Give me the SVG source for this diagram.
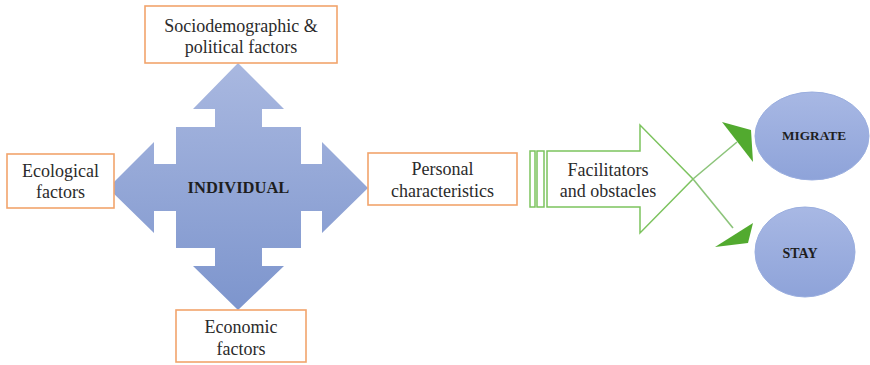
<svg xmlns="http://www.w3.org/2000/svg" width="870" height="365" viewBox="0 0 870 365">
  <style>
    .box { fill: #ffffff; stroke: #f2a46c; stroke-width: 1.6; }
    .lbl { font-family: "Liberation Serif", "Times New Roman", "DejaVu Serif", serif; font-size: 18px; fill: #2b2b2b; text-anchor: middle; }
    .bold { font-family: "Liberation Serif", "Times New Roman", "DejaVu Serif", serif; font-weight: bold; fill: #1e1e1e; text-anchor: middle; }
    .gline { fill: none; stroke: #7cc35e; stroke-width: 1.5; }
    .conn { stroke: #8cc47a; stroke-width: 1.6; fill: none; }
    .head { fill: #52aa2f; }
    .oval { fill: url(#blueOval); stroke: #9aaedf; stroke-width: 1; }
  </style>
  <defs>
    <linearGradient id="blueCross" x1="0" y1="0" x2="0" y2="1">
      <stop offset="0" stop-color="#a9b8e0"/>
      <stop offset="1" stop-color="#7d95cd"/>
    </linearGradient>
    <linearGradient id="blueOval" x1="0" y1="0" x2="0" y2="1">
      <stop offset="0" stop-color="#a8b8e4"/>
      <stop offset="1" stop-color="#8ea3d9"/>
    </linearGradient>
  </defs>

  <!-- central four-way arrow -->
  <g id="individual">
    <path fill="url(#blueCross)" d="M238,63 L284,109 L262,109 L262,127 L301,127 L301,164 L322,164 L322,142 L368,188 L322,233 L322,211 L301,211 L301,248 L262,248 L262,266 L284,266 L238,310 L193,266 L215,266 L215,248 L176,248 L176,211 L154,211 L154,233 L108,188 L154,142 L154,164 L176,164 L176,127 L215,127 L215,109 L193,109 Z"/>
    <text class="bold" x="238.5" y="193" font-size="16.5">INDIVIDUAL</text>
  </g>

  <g id="sociodemographic">
    <rect class="box" x="145" y="6" width="192" height="57"/>
    <text class="lbl" x="241" y="32">Sociodemographic &amp;</text>
    <text class="lbl" x="241" y="53">political factors</text>
  </g>

  <g id="ecological">
    <rect class="box" x="7" y="154" width="107" height="54"/>
    <text class="lbl" x="60.5" y="177">Ecological</text>
    <text class="lbl" x="60.5" y="198">factors</text>
  </g>

  <g id="economic">
    <rect class="box" x="176" y="310" width="130" height="52"/>
    <text class="lbl" x="241" y="333">Economic</text>
    <text class="lbl" x="241" y="355">factors</text>
  </g>

  <g id="personal">
    <rect class="box" x="368" y="153" width="149" height="52"/>
    <text class="lbl" x="442.5" y="175">Personal</text>
    <text class="lbl" x="442.5" y="197">characteristics</text>
  </g>

  <!-- striped block arrow -->
  <g id="facilitators">
    <rect class="gline" x="530" y="151" width="5" height="56"/>
    <rect class="gline" x="537" y="151" width="7" height="56"/>
    <path class="gline" d="M547,151 L640,151 L640,125 L693,179 L640,233 L640,207 L547,207 Z"/>
    <text class="lbl" x="608" y="176">Facilitators</text>
    <text class="lbl" x="608" y="197">and obstacles</text>
  </g>

  <g id="migrate">
    <ellipse class="oval" cx="812" cy="136" rx="57" ry="44"/>
    <text class="bold" x="814" y="140" font-size="13.3">MIGRATE</text>
  </g>

  <g id="stay">
    <ellipse class="oval" cx="805" cy="252" rx="50" ry="45"/>
    <text class="bold" x="800" y="258" font-size="14">STAY</text>
  </g>

  <!-- branches from the block arrow tip -->
  <g id="connectors">
    <line class="conn" x1="693" y1="179" x2="737" y2="142"/>
    <polygon class="head" points="722,122 751,130 753,162"/>
    <line class="conn" x1="693" y1="179" x2="733" y2="228"/>
    <polygon class="head" points="753,223 715,247 748,243"/>
  </g>
</svg>
